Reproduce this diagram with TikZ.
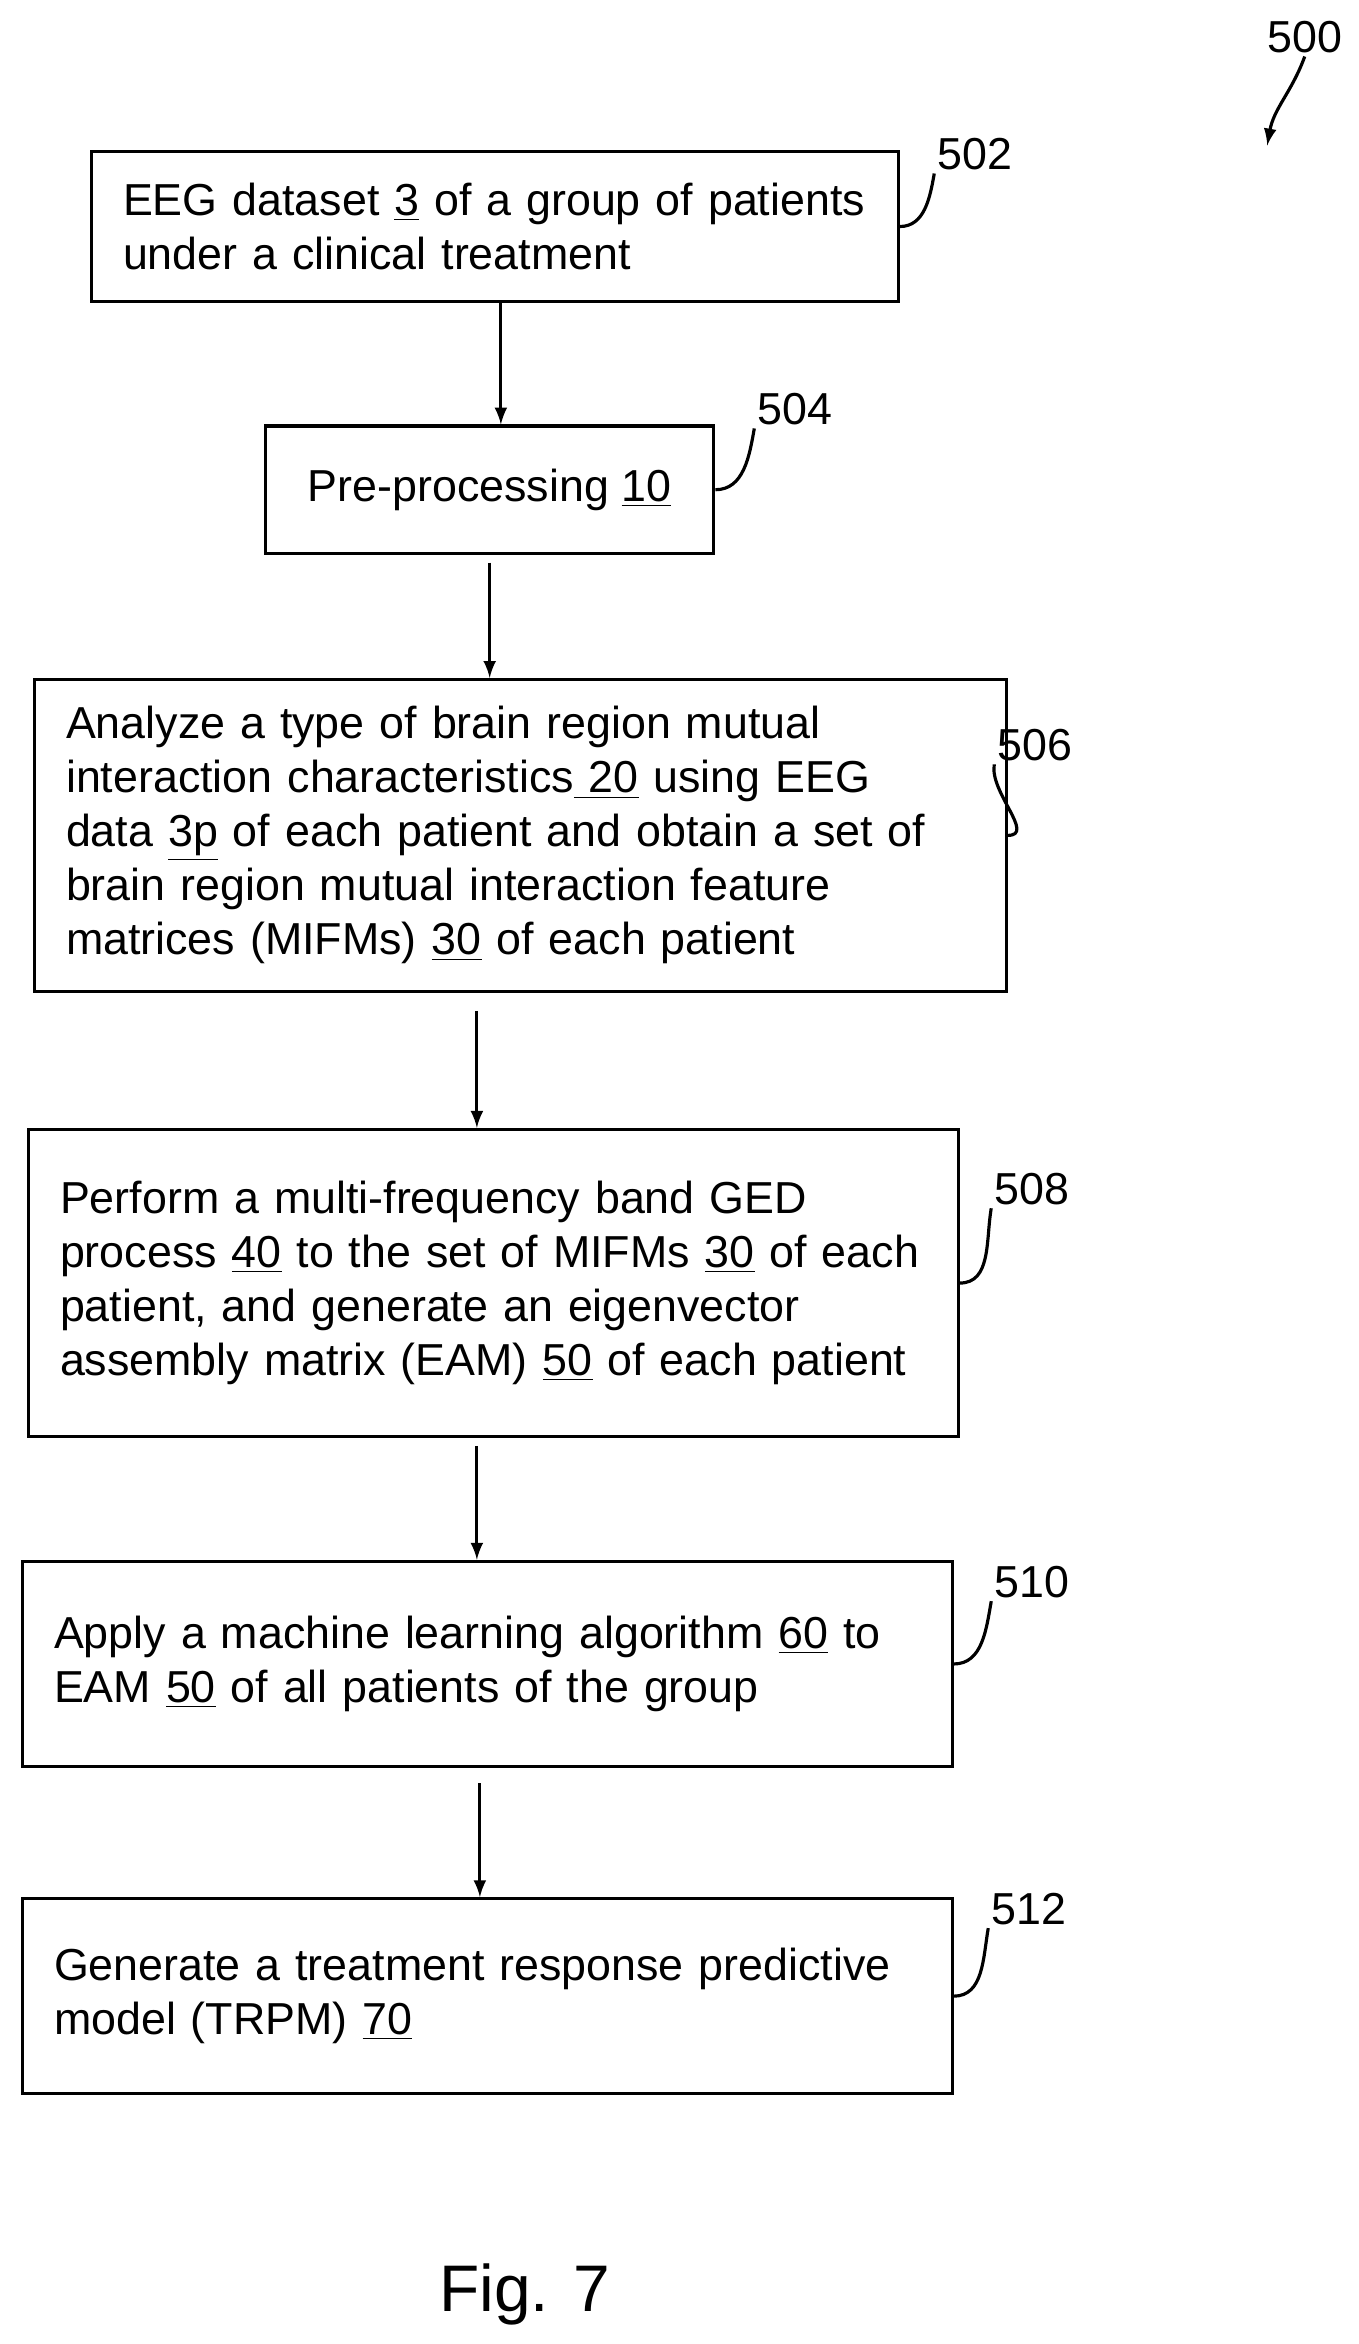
\documentclass[tikz,border=0pt]{standalone}
\usepackage{fontspec}
\setmainfont{Liberation Sans}
\usetikzlibrary{positioning}
\begin{document}
\begin{tikzpicture}[x=0.02cm, y=-0.02cm, font=\fontsize{17}{20.5}\selectfont,
    box/.style={draw, line width=1.2pt, align=left, inner xsep=0.42cm, anchor=north west},
    num/.style={inner sep=1pt},
    lead/.style={line width=1.2pt},
    flow/.style={->, line width=1.2pt, >=latex}]
  \useasboundingbox (0,0) rectangle (906,1563);

  % boxes
  \node[box, text width=9.92cm, minimum height=2cm]  (b502) at (60,100)
    {EEG dataset \underline{3} of a group of patients\\under a clinical treatment};
  \node[box, align=center, minimum width=5.98cm, minimum height=1.7cm] (b504) at (176,283)
    {Pre-processing \underline{10}};
  \node[box, text width=12.12cm, minimum height=4.16cm] (b506) at (22,452)
    {Analyze a type of brain region mutual\\interaction characteristics\underline{ 20} using EEG\\data \underline{3p} of each patient and obtain a set of\\brain region mutual interaction feature\\matrices (MIFMs) \underline{30} of each patient};
  \node[box, text width=11.56cm, minimum height=4.1cm] (b508) at (18,752)
    {Perform a multi-frequency band GED\\process \underline{40} to the set of MIFMs \underline{30} of each\\patient, and generate an eigenvector\\assembly matrix (EAM) \underline{50} of each patient};
  \node[box, text width=11.56cm, minimum height=2.74cm] (b510) at (14,1040)
    {Apply a machine learning algorithm \underline{60} to\\EAM \underline{50} of all patients of the group};
  \node[box, text width=11.56cm, minimum height=2.6cm] (b512) at (14,1265)
    {Generate a treatment response predictive\\model (TRPM) \underline{70}};

  % reference numbers
  \node[num] (l502) at (650,103) {502};
  \node[num] (l504) at (530,273) {504};
  \node[num] (l506) at (690,497) {506};
  \node[num] (l508) at (688,793) {508};
  \node[num] (l510) at (688,1055) {510};
  \node[num] (l512) at (686,1273) {512};
  \node[num] (l500) at (870,25) {500};

  \draw[lead] (b502.east) to[out=0, in=-100] (l502.south west);
  \draw[lead] (b504.east) to[out=0, in=-100] (l504.south west);
  \draw[lead] (b506.east) to[out=0, in=-100] (l506.south west);
  \draw[lead] (b508.east) to[out=0, in=-100] (l508.south west);
  \draw[lead] (b510.east) to[out=0, in=-100] (l510.south west);
  \draw[lead] (b512.east) to[out=0, in=-100] (l512.south west);
  \coordinate (p500) at (845,97);
  \draw[flow] (l500.south) to[out=-110, in=80] (p500);

  % flow
  \draw[flow] (b502.south -| 334,0) -- (b504.north -| 334,0);
  \draw[flow] ([yshift=-0.1cm]b504.south) -- (b506.north -| b504.south);
  \draw[flow] ([yshift=-0.24cm]b506.south -| 318,0) -- (b508.north -| 318,0);
  \draw[flow] ([yshift=-0.1cm]b508.south -| 318,0) -- (b510.north -| 318,0);
  \draw[flow] ([yshift=-0.2cm]b510.south -| 320,0) -- (b512.north -| 320,0);

  \node[font=\fontsize{25}{30}\selectfont] (fig) at (350,1530) {Fig. 7};
\end{tikzpicture}
\end{document}
